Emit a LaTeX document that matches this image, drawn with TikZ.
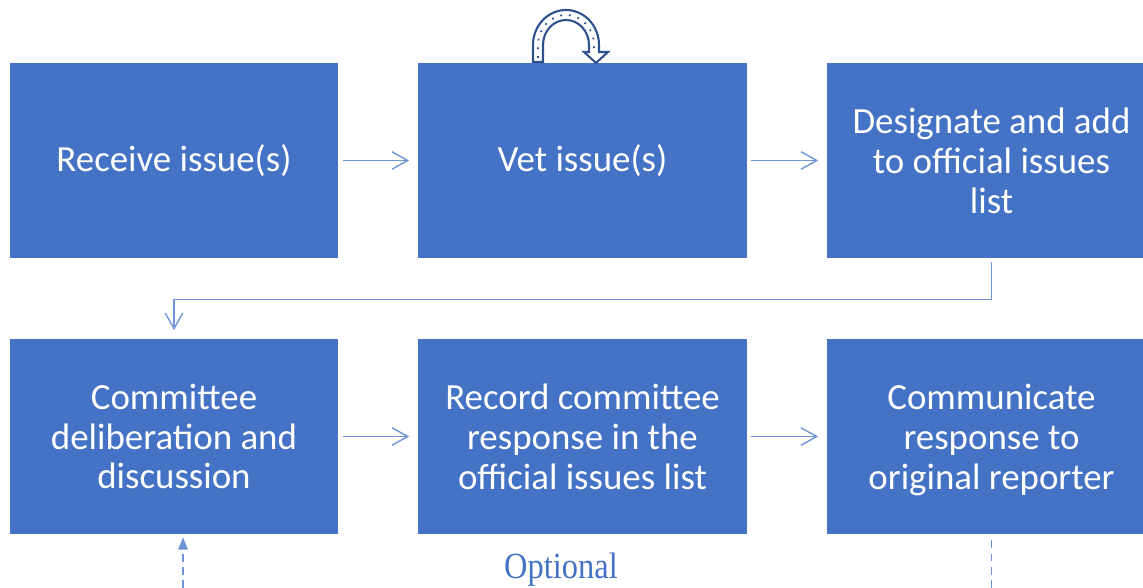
\documentclass[tikz,border=0pt]{standalone}
\usepackage{fontspec}
\setmainfont{Carlito}
\newfontfamily\optfont{Liberation Serif}
\usetikzlibrary{arrows.meta,calc}
\definecolor{boxblue}{HTML}{4472C4}
\definecolor{linkblue}{HTML}{6F95D8}
\definecolor{loopblue}{HTML}{2F528F}
\tikzset{
	stepbox/.style={fill=boxblue, minimum width=6.58cm, minimum height=3.9cm, inner sep=0pt, text=white, align=center, font=\fontsize{21}{22.7}\selectfont},
	flow/.style={draw=linkblue, line width=0.8pt, -{Straight Barb[length=9pt,width=10pt]}, shorten <=0.08cm, shorten >=0.17cm},
	optline/.style={draw=linkblue, line width=0.8pt, dash pattern=on 4.5pt off 3pt}
}

\begin{document}
\begin{tikzpicture}[x=0.02cm, y=0.02cm]
			%%%%% START %%%%%
			\useasboundingbox (0, 0) rectangle (1143, 588);
			
			\node[stepbox] (recv) at (174, 427.5) {Receive issue(s)};
			\node[stepbox] (vet) at (582.5, 427.5) {Vet issue(s)};
			\node[stepbox] (desig) at (991.5, 427.5) {Designate and add\\to official issues\\list};
			
			\node[stepbox] (delib) at (174, 151.5) {Committee\\deliberation and\\discussion};
			\node[stepbox] (record) at (582.5, 151.5) {Record committee\\response in the\\official issues list};
			\node[stepbox] (commun) at (991.5, 151.5) {Communicate\\response to\\\raisebox{0pt}[\height][0pt]{original reporter}};
			
			\draw[flow] (recv) -- (vet);
			\draw[flow] (vet) -- (desig);
			\draw[flow] (desig.south) -- ++(0, -41) -| (delib.north);
			\draw[flow] (delib) -- (record);
			\draw[flow] (record) -- (commun);
			
			% loop back on the vetting step
			\draw[line width=1.2pt, color=loopblue, fill=white] (533, 526) -- (533, 543) arc[start angle=180, end angle=0, x radius=33, y radius=35] -- (599, 536) -- (608, 536) -- (596, 525) -- (584, 536) -- (589, 536) -- (589, 543) arc[start angle=0, end angle=180, x radius=23, y radius=25] -- (543, 526) -- cycle;
			\draw[line width=1pt, color=loopblue, dash pattern=on 1pt off 4pt] (538, 530) -- (538, 543) arc[start angle=180, end angle=0, x radius=28, y radius=30] -- (594, 536);
			
			% optional feedback
			\coordinate (optin) at (183, 0);
			\coordinate (optout) at (991.5, 0);
			\draw[optline, -{Triangle[length=7pt, width=5.5pt]}, shorten >=0.06cm] (optin) -- (optin |- delib.south);
			\draw[optline, shorten <=0.12cm] (commun.south) -- (optout);
			\node[text=boxblue, font=\optfont\fontsize{21}{24}\selectfont, xscale=0.88, transform shape] (optlabel) at (561, 18) {Optional};
			
			%%%%% END %%%%%
\end{tikzpicture}
\end{document}
